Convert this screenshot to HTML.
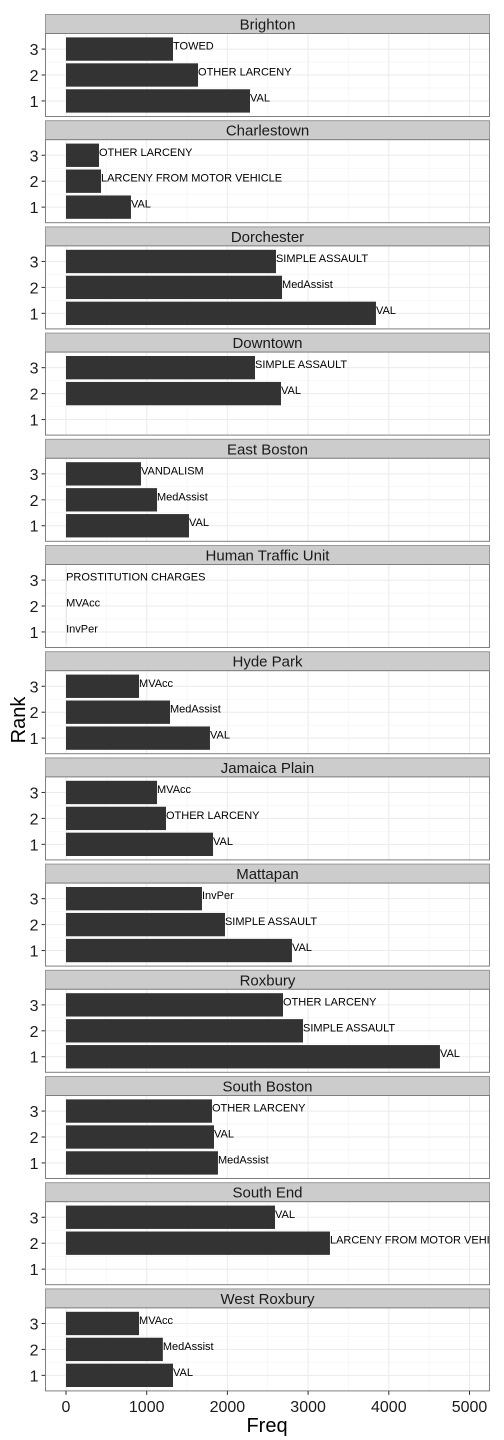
<!DOCTYPE html>
<html><head><meta charset="utf-8"><style>
html,body{margin:0;padding:0;background:#fff;}
svg{display:block;font-family:"Liberation Sans",Arial,sans-serif;}
</style></head><body>
<svg id="chart" width="504" height="1440" viewBox="0 0 504 1440" xmlns="http://www.w3.org/2000/svg"></svg>
<script>
const districts = ["Brighton","Charlestown","Dorchester","Downtown","East Boston","Human Traffic Unit","Hyde Park","Jamaica Plain","Mattapan","Roxbury","South Boston","South End","West Roxbury"];
const rank1Freq = [2280,805,3841,null,1524,1,1784,1822,2800,4634,1883,null,1326];
const rank2Freq = [1636,434,2677,2664,1128,1,1289,1239,1970,2937,1834,3271,1200];
const rank3Freq = [1326,409,2602,2342,929,1,905,1128,1685,2689,1809,2590,905];
const rank1Label = ["VAL","VAL","VAL",null,"VAL","InvPer","VAL","VAL","VAL","VAL","MedAssist",null,"VAL"];
const rank2Label = ["OTHER LARCENY","LARCENY FROM MOTOR VEHICLE","MedAssist","VAL","MedAssist","MVAcc","MedAssist","OTHER LARCENY","SIMPLE ASSAULT","SIMPLE ASSAULT","VAL","LARCENY FROM MOTOR VEHICLE","MedAssist"];
const rank3Label = ["TOWED","OTHER LARCENY","SIMPLE ASSAULT","SIMPLE ASSAULT","VANDALISM","PROSTITUTION CHARGES","MVAcc","MVAcc","InvPer","OTHER LARCENY","OTHER LARCENY","VAL","MVAcc"];
const xTicks = [0,1000,2000,3000,4000,5000];
const yTicks = [1,2,3];

const NS="http://www.w3.org/2000/svg";
const svg=document.getElementById('chart');
function mk(tag,attrs,parent){const e=document.createElementNS(NS,tag);for(const k in attrs)e.setAttribute(k,attrs[k]);(parent||svg).appendChild(e);return e;}
const L=45.5,R=489.5,top0=14.5,period=106.2,stripH=19,panelH=83;
const xs=v=>66+v*0.0807;
const defs=mk('defs',{});
const clip=mk('clipPath',{id:'pc'},defs);
mk('rect',{x:L,y:0,width:R-L,height:1440},clip);
for(let i=0;i<districts.length;i++){
  const st=top0+i*period, pt=st+stripH, pb=pt+panelH;
  const ys=r=>pt+ (3.6-r)/3.2*panelH;
  const g=mk('g',{});
  
  
  const strip=mk('rect',{x:L,y:st,width:R-L,height:stripH,fill:'#cccccc',stroke:'#999',"stroke-width":1},g);
  
  
  const t=mk('text',{x:(L+R)/2,y:st+15,"text-anchor":"middle","font-size":15,fill:'#1a1a1a'},g);
  t.textContent=districts[i];
  
  
  mk('rect',{x:L,y:pt,width:R-L,height:panelH,fill:'#fff'},g);
  for(let m=500;m<=5000;m+=1000) mk('line',{x1:xs(m),x2:xs(m),y1:pt,y2:pb,stroke:'#f3f3f3',"stroke-width":0.6},g);
  for(const r of [1.5,2.5]) mk('line',{x1:L,x2:R,y1:ys(r),y2:ys(r),stroke:'#f3f3f3',"stroke-width":0.6},g);
  for(const v of xTicks) mk('line',{x1:xs(v),x2:xs(v),y1:pt,y2:pb,stroke:'#ebebeb',"stroke-width":1},g);
  for(const r of yTicks){
    mk('line',{x1:L,x2:R,y1:ys(r),y2:ys(r),stroke:'#ebebeb',"stroke-width":1},g);
    mk('line',{x1:L-4,x2:L,y1:ys(r),y2:ys(r),stroke:'#333',"stroke-width":1},g);
    const tl=mk('text',{x:L-7,y:ys(r)+6,"text-anchor":"end","font-size":16,fill:'#1a1a1a'},g);
    tl.textContent=r;
    
    
  }
  const freqs=[rank1Freq[i],rank2Freq[i],rank3Freq[i]], labs=[rank1Label[i],rank2Label[i],rank3Label[i]];
  for(let k=0;k<3;k++){
    if(freqs[k]==null) continue;
    const r=k+1, bh=0.9*panelH/3.2;
    const b=mk('rect',{x:xs(0),y:ys(r)-bh/2,width:xs(freqs[k])-xs(0),height:bh,fill:'#333333'},g);
    
    
    const lt=mk('text',{x:xs(freqs[k]),y:ys(r)+0.5,"font-size":11,fill:'#000',"clip-path":"url(#pc)"},g);
    lt.textContent=labs[k];
    
    
  }
  mk('rect',{x:L,y:pt,width:R-L,height:panelH,fill:'none',stroke:'#7f7f7f',"stroke-width":1},g);
}
const lastB=top0+12*period+stripH+panelH;
for(const v of xTicks){
  mk('line',{x1:xs(v),x2:xs(v),y1:lastB,y2:lastB+4,stroke:'#333'});
  const t=mk('text',{x:xs(v),y:lastB+21,"text-anchor":"middle","font-size":16,fill:'#1a1a1a'});
  t.textContent=v;
  
  
}
const xt=mk('text',{x:267,y:1432,"text-anchor":"middle","font-size":20,fill:'#000'});
xt.textContent='Freq';


const yt=mk('text',{x:0,y:0,"text-anchor":"middle","font-size":20,fill:'#000',transform:'translate(25,720) rotate(-90)'});
yt.textContent='Rank';


</script>
</body></html>
